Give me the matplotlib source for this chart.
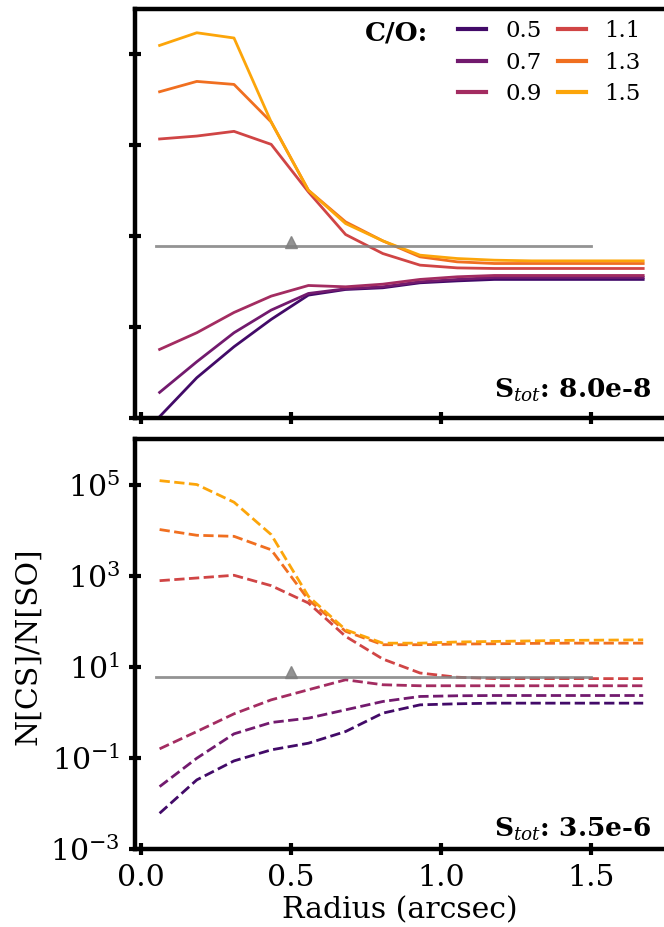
import numpy as np
import matplotlib
matplotlib.use('Agg')
import matplotlib.pyplot as plt
import matplotlib as mpl

### Parameters
lw_ax = 3.2
params = {
    'font.family': 'serif',
    'font.serif': ['DejaVu Serif'],
    'mathtext.fontset': 'dejavuserif',
    'font.size': 21.5,
    'xtick.labelsize': 21.5,
    'ytick.labelsize': 21.5,
    'axes.linewidth': lw_ax,
}
mpl.rcParams.update(params)

### Data
radius = [0.062, 0.186, 0.31, 0.434, 0.558, 0.682, 0.806, 0.93,
          1.054, 1.178, 1.302, 1.426, 1.55, 1.674]
co_labels = ['0.5', '0.7', '0.9', '1.1', '1.3', '1.5']

# top panel, S_tot = 8.0e-8 (solid)
ratio_top = [
    [0.00107, 0.0077, 0.037, 0.148, 0.506, 0.673, 0.733, 0.944, 1.04, 1.12, 1.12, 1.12, 1.12, 1.12],
    [0.00366, 0.0173, 0.0752, 0.237, 0.550, 0.697, 0.771, 0.993, 1.12, 1.24, 1.24, 1.24, 1.24, 1.24],
    [0.0323, 0.0752, 0.210, 0.481, 0.824, 0.771, 0.881, 1.12, 1.28, 1.37, 1.37, 1.37, 1.37, 1.37],
    [1.38e3, 1.60e3, 2.03e3, 1.05e3, 94.4, 10.9, 4.16, 2.31, 2.01, 1.95, 1.95, 1.95, 1.95, 1.95],
    [1.51e4, 2.55e4, 2.19e4, 3.26e3, 102.6, 20.7, 7.9, 3.52, 2.73, 2.51, 2.51, 2.51, 2.51, 2.51],
    [1.58e5, 3.0e5, 2.3e5, 3.26e3, 102.6, 19.0, 7.9, 3.83, 3.23, 2.97, 2.87, 2.87, 2.87, 2.87],
]

# bottom panel, S_tot = 3.5e-6 (dashed)
ratio_bot = [
    [0.00608, 0.0329, 0.0859, 0.150, 0.210, 0.379, 0.96, 1.46, 1.54, 1.59, 1.59, 1.59, 1.59, 1.59],
    [0.0234, 0.0984, 0.337, 0.598, 0.745, 1.135, 1.73, 2.23, 2.31, 2.34, 2.34, 2.34, 2.34, 2.34],
    [0.158, 0.379, 0.927, 1.88, 3.13, 5.18, 4.03, 3.83, 3.83, 3.83, 3.83, 3.83, 3.83, 3.83],
    [776, 889, 1.02e3, 603, 251, 46.5, 14.8, 7.3, 5.9, 5.5, 5.5, 5.5, 5.5, 5.5],
    [1.03e4, 7.7e3, 7.3e3, 3.7e3, 297, 60, 30.5, 30.5, 31.5, 32, 32.6, 33, 33, 33],
    [1.22e5, 1.0e5, 4.1e4, 7.96e3, 352, 65, 33, 33, 35, 36, 37, 38, 38.5, 39],
]

obs_x = [0.05, 1.5]
obs_val = 6.0
obs_marker_x = 0.5
obs_marker_y = 7.5

stot_labels = ['8.0e-8', '3.5e-6']

colors = plt.cm.inferno(np.linspace(0.2, 0.8, 6))

W, H = 664, 927
fig = plt.figure(figsize=[W / 100, H / 100], dpi=100)

x_lo, x_hi = -0.02, 1.9
px_per_unit = 300
x0 = 135 / W
width = (x_hi - x_lo) * px_per_unit / W
ax_top = fig.add_axes([x0, 1 - 418 / H, width, 409 / H])
ax_bot = fig.add_axes([x0, 1 - 849 / H, width, 410 / H])

for ax, data, ls in [(ax_top, ratio_top, '-'), (ax_bot, ratio_bot, '--')]:
    for i in range(len(data)):
        ax.plot(radius, data[i], ls, color=colors[i], lw=2, label=co_labels[i])
    ax.plot(obs_x, [obs_val, obs_val], '-', color='gray', lw=2, alpha=0.85)
    ax.plot(obs_marker_x, obs_marker_y, '^', color='gray', ms=8, alpha=0.85)
    ax.set_yscale('log')
    ax.set_ylim(1e-3, 1e6)
    ax.set_xlim(x_lo, x_hi)
    ax.set_yticks([1e-3, 1e-1, 1e1, 1e3, 1e5])
    ax.yaxis.set_minor_locator(mpl.ticker.NullLocator())
    ax.set_xticks([0, 0.5, 1.0, 1.5])
    ax.tick_params(direction='inout', length=8, width=3.0, pad=7)
    ax.spines['right'].set_visible(False)

ax_top.tick_params(labelbottom=False, labelleft=False)
ax_bot.set_xticklabels(['0.0', '0.5', '1.0', '1.5'])

# legend
handles, labels = ax_top.get_legend_handles_labels()
leg = ax_top.legend(handles[:6], labels[:6], ncol=2, frameon=False, fontsize=16.5,
                    loc='upper right', bbox_to_anchor=(641 / W, 1 - 20 / H),
                    bbox_transform=fig.transFigure, handlelength=1.22,
                    handletextpad=0.83, columnspacing=0.7, labelspacing=0.42,
                    borderpad=0, borderaxespad=0)
for l in leg.get_lines():
    l.set_linewidth(3)
fig.text(365 / W, 1 - 33 / H, 'C/O:', fontsize=19, fontweight='bold', ha='left', va='center')

# S_tot annotations
fig.text(651 / W, 1 - 398 / H, r'$\mathbf{S}_{tot}$: ' + stot_labels[0], fontsize=19,
         fontweight='bold', ha='right', va='baseline')
fig.text(651 / W, 1 - 837 / H, r'$\mathbf{S}_{tot}$: ' + stot_labels[1], fontsize=19,
         fontweight='bold', ha='right', va='baseline')

fig.text(400 / W, 1 - 918 / H, 'Radius (arcsec)', fontsize=21.5, ha='center', va='baseline')
fig.text(28 / W, 1 - 646 / H, 'N[CS]/N[SO]', fontsize=21.5, ha='center', va='center', rotation=90)

fig.savefig('out.png', dpi=100)
